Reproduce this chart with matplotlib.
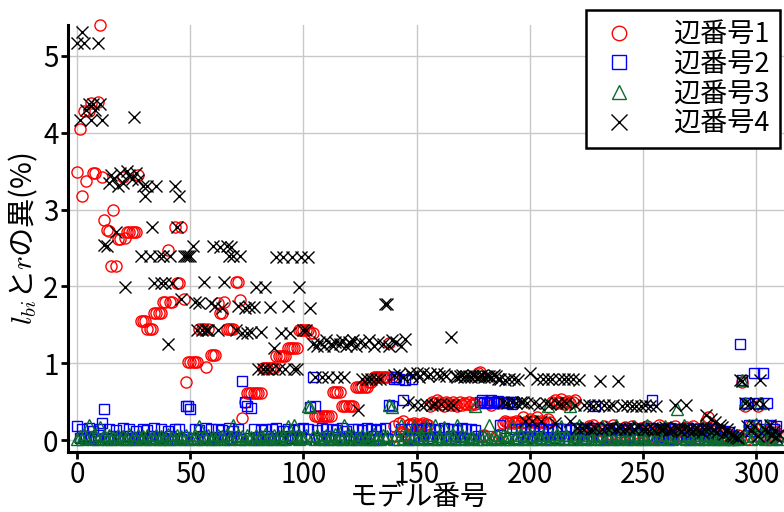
#!/usr/bin/env python3
"""
Scatter of the difference between l_bi and r for each edge, per model.
"""

import matplotlib
matplotlib.use('Agg')
import matplotlib.pyplot as plt
import numpy as np

plt.rcParams['font.family'] = ['Noto Sans CJK JP', 'DejaVu Sans']
plt.rcParams['mathtext.fontset'] = 'cm'

# values, one per model (0..310), in %
edge1 = [
    3.49, 4.05, 3.18, 4.28, 3.37, 4.28, 4.39, 3.47, 3.47, 4.40,   # 0
    5.40, 3.42, 2.86, 2.73, 2.72, 2.27, 3.00, 2.27, 2.62, 2.62,   # 10
    3.42, 2.63, 2.71, 2.71, 2.71, 2.71, 2.71, 3.45, 1.55, 1.55,   # 20
    1.55, 1.44, 1.44, 1.44, 1.65, 1.65, 1.65, 1.65, 1.80, 1.80,   # 30
    2.47, 1.80, 1.80, 2.77, 2.05, 2.05, 2.77, 1.84, 0.76, 1.02,   # 40
    1.02, 1.02, 1.02, 1.02, 1.44, 1.44, 1.44, 0.95, 1.44, 1.11,   # 50
    1.11, 1.11, 1.78, 1.66, 1.66, 1.80, 1.44, 1.44, 1.44, 1.44,   # 60
    2.06, 2.06, 1.82, 0.29, 0.50, 0.61, 0.61, 0.61, 0.61, 0.61,   # 70
    0.61, 0.61, 0.94, 0.94, 0.94, 0.94, 0.94, 0.94, 1.09, 1.09,   # 80
    1.09, 1.09, 1.09, 1.20, 1.20, 1.20, 1.20, 1.20, 1.43, 1.43,   # 90
    1.43, 1.43, 1.43, 1.40, 1.40, 0.31, 0.31, 0.31, 0.31, 0.31,   # 100
    0.31, 0.31, 0.31, 0.63, 0.63, 0.63, 0.63, 0.45, 0.45, 0.45,   # 110
    0.45, 0.45, 0.45, 0.69, 0.69, 0.69, 0.69, 0.69, 0.69, 0.75,   # 120
    0.75, 0.82, 0.82, 0.82, 0.82, 0.82, 0.82, 0.82, 1.27, 0.82,   # 130
    0.18, 0.05, 0.22, 0.10, 0.25, 0.08, 0.20, 0.21, 0.20, 0.22,   # 140
    0.21, 0.20, 0.20, 0.22, 0.21, 0.20, 0.45, 0.50, 0.48, 0.52,   # 150
    0.49, 0.47, 0.45, 0.50, 0.48, 0.46, 0.50, 0.47, 0.45, 0.49,   # 160
    0.46, 0.48, 0.47, 0.49, 0.46, 0.48, 0.47, 0.87, 0.88, 0.04,   # 170
    0.06, 0.50, 0.48, 0.46, 0.50, 0.05, 0.48, 0.08, 0.22, 0.25,   # 180
    0.23, 0.22, 0.24, 0.22, 0.25, 0.23, 0.22, 0.30, 0.24, 0.22,   # 190
    0.28, 0.23, 0.25, 0.30, 0.22, 0.25, 0.23, 0.22, 0.28, 0.24,   # 200
    0.50, 0.52, 0.48, 0.50, 0.53, 0.47, 0.50, 0.51, 0.48, 0.50,   # 210
    0.52, 0.03, 0.05, 0.12, 0.15, 0.10, 0.18, 0.14, 0.20, 0.12,   # 220
    0.16, 0.05, 0.12, 0.18, 0.03, 0.14, 0.08, 0.20, 0.02, 0.15,   # 230
    0.10, 0.04, 0.17, 0.12, 0.06, 0.19, 0.02, 0.14, 0.09, 0.16,   # 240
    0.05, 0.13, 0.18, 0.03, 0.04, 0.15, 0.11, 0.20, 0.07, 0.14,   # 250
    0.02, 0.16, 0.10, 0.01, 0.18, 0.12, 0.05, 0.15, 0.09, 0.17,   # 260
    0.04, 0.13, 0.19, 0.08, 0.14, 0.03, 0.16, 0.11, 0.25, 0.30,   # 270
    0.02, 0.12, 0.06, 0.15, 0.09, 0.03, 0.11, 0.05, 0.08, 0.02,   # 280
    0.04, 0.01, 0.06, 0.03, 0.75, 0.45, 0.02, 0.18, 0.05, 0.10,   # 290
    0.15, 0.45, 0.03, 0.08, 0.02, 0.12, 0.05, 0.18, 0.04, 0.10,   # 300
    0.06,
]

edge2 = [
    0.18, 0.03, 0.15, 0.05, 0.02, 0.16, 0.04, 0.12, 0.01, 0.06,
    0.14, 0.22, 0.41, 0.03, 0.15, 0.02, 0.05, 0.13, 0.01, 0.04,
    0.16, 0.02, 0.05, 0.14, 0.03, 0.01, 0.12, 0.04, 0.02, 0.15,
    0.03, 0.13, 0.01, 0.05, 0.16, 0.02, 0.04, 0.14, 0.03, 0.01,
    0.12, 0.05, 0.02, 0.15, 0.03, 0.14, 0.01, 0.04, 0.45, 0.44,
    0.40, 0.03, 0.15, 0.02, 0.13, 0.05, 0.01, 0.16, 0.03, 0.14,
    0.02, 0.04, 0.15, 0.01, 0.13, 0.05, 0.02, 0.16, 0.03, 0.12,
    0.04, 0.14, 0.01, 0.77, 0.50, 0.45, 0.03, 0.42, 0.15, 0.02,
    0.04, 0.13, 0.01, 0.15, 0.05, 0.02, 0.14, 0.03, 0.16, 0.01,
    0.04, 0.12, 0.02, 0.15, 0.05, 0.03, 0.13, 0.01, 0.14, 0.04,
    0.16, 0.02, 0.15, 0.43, 0.82, 0.45, 0.13, 0.03, 0.16, 0.01,
    0.14, 0.05, 0.02, 0.15, 0.04, 0.13, 0.01, 0.16, 0.03, 0.12,
    0.05, 0.02, 0.15, 0.04, 0.14, 0.01, 0.13, 0.03, 0.16, 0.02,
    0.15, 0.05, 0.13, 0.01, 0.14, 0.03, 0.16, 0.02, 0.46, 0.45,
    0.80, 0.82, 0.80, 0.15, 0.52, 0.78, 0.03, 0.14, 0.80, 0.02,
    0.15, 0.05, 0.13, 0.01, 0.16, 0.03, 0.14, 0.02, 0.15, 0.04,
    0.13, 0.01, 0.16, 0.03, 0.14, 0.05, 0.15, 0.02, 0.13, 0.04,
    0.16, 0.01, 0.14, 0.03, 0.15, 0.02, 0.13, 0.05, 0.50, 0.52,
    0.48, 0.50, 0.49, 0.52, 0.48, 0.50, 0.51, 0.20, 0.49, 0.03,
    0.48, 0.50, 0.47, 0.49, 0.15, 0.02, 0.14, 0.04, 0.16, 0.01,
    0.15, 0.03, 0.13, 0.05, 0.16, 0.02, 0.14, 0.01, 0.15, 0.04,
    0.13, 0.03, 0.16, 0.02, 0.14, 0.05, 0.15, 0.01, 0.13, 0.04,
    0.16, 0.02, 0.14, 0.03, 0.15, 0.01, 0.13, 0.05, 0.16, 0.44,
    0.02, 0.14, 0.04, 0.15, 0.01, 0.13, 0.03, 0.16, 0.02, 0.14,
    0.05, 0.15, 0.01, 0.13, 0.04, 0.16, 0.02, 0.14, 0.03, 0.15,
    0.01, 0.13, 0.05, 0.16, 0.52, 0.02, 0.14, 0.04, 0.15, 0.01,
    0.13, 0.03, 0.16, 0.02, 0.14, 0.05, 0.15, 0.01, 0.13, 0.04,
    0.16, 0.02, 0.14, 0.03, 0.15, 0.01, 0.13, 0.05, 0.16, 0.02,
    0.14, 0.04, 0.15, 0.01, 0.13, 0.03, 0.12, 0.02, 0.10, 0.01,
    0.05, 0.02, 0.03, 1.25, 0.78, 0.48, 0.48, 0.20, 0.12, 0.87,
    0.20, 0.48, 0.05, 0.87, 0.15, 0.48, 0.20, 0.03, 0.14, 0.18,
    0.05,
]

edge3 = [
    0.02, 0.05, 0.01, 0.08, 0.03, 0.20, 0.04, 0.02, 0.06, 0.01,
    0.17, 0.03, 0.05, 0.02, 0.07, 0.01, 0.04, 0.03, 0.06, 0.02,
    0.05, 0.01, 0.03, 0.08, 0.02, 0.04, 0.01, 0.06, 0.03, 0.05,
    0.02, 0.07, 0.01, 0.04, 0.03, 0.06, 0.02, 0.05, 0.01, 0.03,
    0.08, 0.02, 0.04, 0.01, 0.06, 0.03, 0.05, 0.02, 0.07, 0.01,
    0.04, 0.03, 0.06, 0.02, 0.18, 0.01, 0.05, 0.03, 0.07, 0.02,
    0.04, 0.01, 0.06, 0.03, 0.05, 0.02, 0.08, 0.01, 0.04, 0.20,
    0.03, 0.06, 0.02, 0.05, 0.01, 0.07, 0.03, 0.04, 0.02, 0.06,
    0.01, 0.05, 0.03, 0.08, 0.02, 0.04, 0.01, 0.06, 0.03, 0.05,
    0.02, 0.07, 0.01, 0.19, 0.03, 0.06, 0.20, 0.05, 0.01, 0.04,
    0.03, 0.06, 0.45, 0.43, 0.05, 0.01, 0.07, 0.03, 0.04, 0.02,
    0.06, 0.01, 0.05, 0.03, 0.08, 0.02, 0.04, 0.01, 0.20, 0.03,
    0.05, 0.02, 0.07, 0.01, 0.04, 0.03, 0.06, 0.02, 0.05, 0.01,
    0.03, 0.08, 0.02, 0.04, 0.01, 0.06, 0.03, 0.05, 0.46, 0.43,
    0.02, 0.07, 0.01, 0.20, 0.03, 0.06, 0.02, 0.05, 0.01, 0.18,
    0.04, 0.03, 0.07, 0.02, 0.19, 0.01, 0.06, 0.03, 0.20, 0.02,
    0.05, 0.01, 0.17, 0.03, 0.04, 0.02, 0.07, 0.01, 0.20, 0.03,
    0.06, 0.02, 0.05, 0.01, 0.04, 0.03, 0.45, 0.02, 0.06, 0.01,
    0.05, 0.03, 0.20, 0.02, 0.04, 0.01, 0.07, 0.03, 0.06, 0.02,
    0.05, 0.01, 0.18, 0.03, 0.04, 0.02, 0.06, 0.01, 0.20, 0.03,
    0.05, 0.02, 0.07, 0.01, 0.04, 0.03, 0.06, 0.02, 0.44, 0.01,
    0.05, 0.03, 0.08, 0.02, 0.19, 0.01, 0.06, 0.03, 0.44, 0.02,
    0.05, 0.01, 0.20, 0.03, 0.04, 0.02, 0.07, 0.01, 0.06, 0.03,
    0.05, 0.02, 0.18, 0.01, 0.04, 0.03, 0.06, 0.02, 0.20, 0.01,
    0.05, 0.03, 0.07, 0.02, 0.04, 0.01, 0.19, 0.03, 0.06, 0.02,
    0.05, 0.01, 0.20, 0.03, 0.04, 0.02, 0.07, 0.01, 0.06, 0.03,
    0.18, 0.02, 0.05, 0.01, 0.04, 0.40, 0.06, 0.03, 0.20, 0.02,
    0.05, 0.01, 0.07, 0.03, 0.04, 0.02, 0.20, 0.01, 0.06, 0.03,
    0.05, 0.02, 0.04, 0.01, 0.06, 0.03, 0.02, 0.05, 0.01, 0.03,
    0.02, 0.04, 0.01, 0.03, 0.78, 0.48, 0.05, 0.20, 0.02, 0.06,
    0.21, 0.03, 0.48, 0.05, 0.02, 0.20, 0.04, 0.01, 0.06, 0.03,
    0.02,
]

edge4 = [
    5.17, 4.17, 5.31, 5.17, 4.30, 4.37, 4.17, 4.37, 4.30, 5.17,
    4.37, 4.17, 2.54, 2.52, 3.35, 3.45, 3.40, 2.71, 3.30, 3.48,
    3.35, 1.99, 3.50, 3.45, 3.40, 4.21, 3.48, 3.38, 2.39, 3.30,
    3.17, 3.30, 2.39, 2.77, 2.05, 3.30, 2.39, 2.05, 2.39, 2.05,
    1.25, 2.39, 2.05, 3.30, 2.77, 3.17, 1.84, 2.39, 2.39, 2.39,
    2.39, 2.52, 1.80, 1.43, 1.78, 1.43, 2.06, 1.43, 1.43, 1.78,
    2.52, 1.75, 1.43, 2.51, 1.72, 2.06, 2.52, 2.39, 2.51, 2.39,
    1.43, 1.75, 2.39, 1.39, 1.72, 1.39, 1.73, 1.41, 1.73, 1.99,
    0.92, 1.41, 0.92, 1.99, 0.92, 1.73, 0.92, 1.20, 2.38, 0.92,
    1.39, 2.38, 0.92, 1.75, 1.39, 2.38, 0.92, 0.92, 1.99, 2.38,
    1.43, 1.43, 2.38, 1.72, 1.25, 0.82, 1.22, 1.28, 0.82, 1.22,
    1.30, 0.82, 1.25, 1.22, 1.28, 0.82, 1.25, 1.30, 0.82, 1.22,
    1.28, 1.25, 1.30, 1.22, 0.39, 1.28, 0.80, 1.25, 0.80, 1.30,
    0.80, 1.22, 0.80, 1.28, 0.80, 1.25, 1.77, 1.77, 1.22, 1.30,
    0.85, 1.28, 0.86, 1.22, 0.82, 1.32, 0.50, 0.87, 0.84, 0.46,
    0.87, 0.82, 0.46, 0.87, 0.47, 0.84, 0.86, 0.46, 0.47, 0.87,
    0.84, 0.47, 0.86, 0.84, 0.46, 1.34, 0.46, 0.84, 0.82, 0.84,
    0.85, 0.82, 0.84, 0.84, 0.82, 0.85, 0.84, 0.82, 0.84, 0.85,
    0.82, 0.84, 0.84, 0.82, 0.85, 0.84, 0.80, 0.79, 0.50, 0.78,
    0.48, 0.80, 0.50, 0.79, 0.48, 0.78, 0.50, 0.49, 0.25, 0.48,
    0.87, 0.25, 0.48, 0.80, 0.46, 0.25, 0.80, 0.48, 0.79, 0.47,
    0.80, 0.22, 0.48, 0.79, 0.47, 0.80, 0.48, 0.79, 0.25, 0.80,
    0.46, 0.16, 0.78, 0.16, 0.46, 0.17, 0.46, 0.15, 0.45, 0.16,
    0.46, 0.77, 0.15, 0.46, 0.16, 0.45, 0.17, 0.46, 0.15, 0.77,
    0.16, 0.45, 0.14, 0.46, 0.16, 0.45, 0.15, 0.44, 0.17, 0.45,
    0.14, 0.46, 0.15, 0.45, 0.16, 0.13, 0.44, 0.16, 0.14, 0.15,
    0.17, 0.12, 0.15, 0.13, 0.46, 0.16, 0.14, 0.12, 0.15, 0.46,
    0.13, 0.15, 0.12, 0.14, 0.16, 0.13, 0.11, 0.14, 0.33, 0.15,
    0.28, 0.13, 0.24, 0.10, 0.20, 0.17, 0.08, 0.14, 0.11, 0.07,
    0.05, 0.04, 0.03, 0.78, 0.77, 0.48, 0.18, 0.47, 0.12, 0.18,
    0.48, 0.05, 0.78, 0.47, 0.14, 0.10, 0.20, 0.06, 0.12, 0.04,
    0.08,
]

labels = ['辺番号1', '辺番号2', '辺番号3', '辺番号4']
models = np.arange(len(edge1))

fig = plt.figure(figsize=(7.84, 5.12), dpi=100)
ax = fig.add_axes([0.087, 0.117, 0.913, 0.834])

ms = 8
ax.plot(models, edge1, 'o', color='red', mfc='none', mew=1.0, ms=ms,
        label=labels[0], clip_on=False)
ax.plot(models, edge2, 's', color='blue', mfc='none', mew=1.0, ms=ms - 0.5,
        label=labels[1], clip_on=False)
ax.plot(models, edge3, '^', color='#0b6b2e', mfc='none', mew=1.0, ms=ms,
        label=labels[2], clip_on=False)
ax.plot(models, edge4, 'x', color='black', mew=1.0, ms=ms + 0.5,
        label=labels[3], clip_on=False)

ax.set_xlim(-4, 312.4)
ax.set_ylim(-0.156, 5.40)
ax.set_xticks([0, 50, 100, 150, 200, 250, 300])
ax.set_yticks([0, 1, 2, 3, 4, 5])
ax.grid(True, color='#c8c8c8', linewidth=1.0)
ax.set_axisbelow(True)

for side in ['top', 'right']:
    ax.spines[side].set_visible(False)
for side in ['left', 'bottom']:
    ax.spines[side].set_linewidth(2.2)
ax.tick_params(axis='both', labelsize=20, width=2, length=5, pad=2)
ax.tick_params(axis='x', pad=1)

ax.set_xlabel('モデル番号', fontsize=20, va='center')
ax.xaxis.set_label_coords(0.49, -0.106)
ax.set_ylabel('$l_{bi}$と$r$の異(%)', fontsize=21, labelpad=2)

leg = ax.legend(loc='upper right', bbox_to_anchor=(0.995, 0.98),
                bbox_transform=fig.transFigure, fontsize=19.5,
                fancybox=False, framealpha=1, edgecolor='black',
                handletextpad=1.2, borderpad=0.4, labelspacing=0.1,
                handlelength=1.6, borderaxespad=0, markerscale=1.3)
leg.get_frame().set_linewidth(1.8)

fig.savefig('out.png', dpi=100)
